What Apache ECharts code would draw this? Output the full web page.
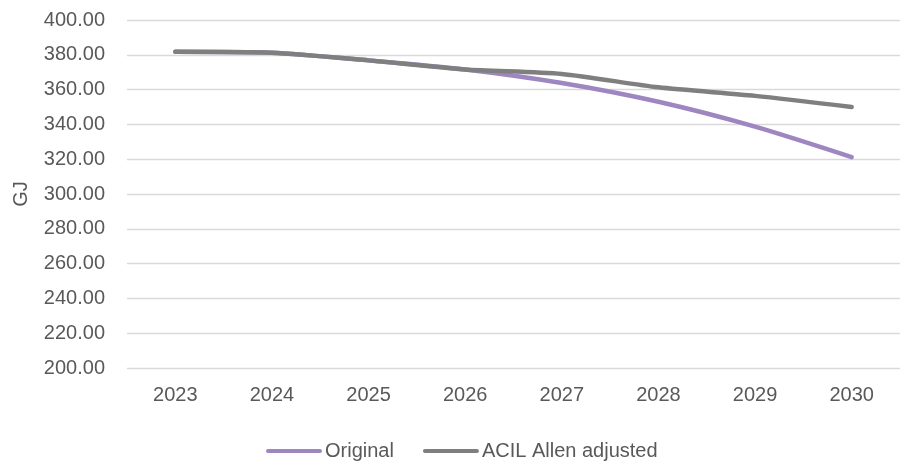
<!DOCTYPE html>
<html>
<head>
<meta charset="utf-8">
<script src="https://cdn.jsdelivr.net/npm/echarts@6/dist/echarts.min.js"></script>
<style>
  html, body { margin: 0; padding: 0; background: #ffffff; }
  #chart { width: 900px; height: 461px; }
</style>
</head>
<body>
<div id="chart"></div>
<script>
// Annual gas consumption per connection (GJ)
const years = ['2023', '2024', '2025', '2026', '2027', '2028', '2029', '2030'];
const original = [381.8, 381.2, 376.8, 371.6, 363.8, 353.0, 338.7, 321.2];
const acilAdjusted = [381.8, 381.2, 376.8, 371.6, 369.0, 361.3, 356.4, 350.0];

const TEXT = '#595959';
const FONT = 'Liberation Sans, Arial, sans-serif';
const PURPLE = '#9e86c0';
const GREY = '#7f7f7f';
const capsule = 'path://M2,0 L54,0 A2,2 0 0 1 54,4 L2,4 A2,2 0 0 1 2,0 Z';

const chart = echarts.init(document.getElementById('chart'), null, { renderer: 'canvas' });

chart.setOption({
  animation: false,
  backgroundColor: '#ffffff',
  grid: { left: 127, top: 20, width: 784, height: 348, containLabel: false },
  xAxis: {
    type: 'category',
    data: years,
    boundaryGap: true,
    axisLine: { show: false },
    axisTick: { show: false },
    axisLabel: { color: TEXT, fontFamily: FONT, fontSize: 20, margin: 17 },
    splitLine: { show: false }
  },
  yAxis: {
    type: 'value',
    min: 200,
    max: 400,
    interval: 20,
    name: 'GJ',
    nameLocation: 'middle',
    nameGap: 96,
    nameTextStyle: { color: TEXT, fontFamily: FONT, fontSize: 20 },
    axisLine: { show: false },
    axisTick: { show: false },
    axisLabel: {
      color: TEXT, fontFamily: FONT, fontSize: 20, margin: 22,
      formatter: v => v.toFixed(2)
    },
    splitLine: { lineStyle: { color: '#d9d9d9', width: 1.3 } }
  },
  legend: {
    left: 261,
    top: 436,
    itemWidth: 56,
    itemHeight: 5,
    itemGap: 29,
    textStyle: { color: TEXT, fontFamily: FONT, fontSize: 20, padding: [0, 0, 0, -2] },
    data: [
      { name: 'Original', icon: capsule },
      { name: 'ACIL Allen adjusted', icon: capsule }
    ]
  },
  series: [
    {
      name: 'Original',
      type: 'line',
      data: original,
      smooth: 0.25,
      symbol: 'none',
      color: PURPLE,
      lineStyle: { width: 4.5, color: PURPLE, cap: 'round', join: 'round' },
      z: 2
    },
    {
      name: 'ACIL Allen adjusted',
      type: 'line',
      data: acilAdjusted,
      smooth: 0.25,
      symbol: 'none',
      color: GREY,
      lineStyle: { width: 4.5, color: GREY, cap: 'round', join: 'round' },
      z: 3
    }
  ]
});
</script>
</body>
</html>
